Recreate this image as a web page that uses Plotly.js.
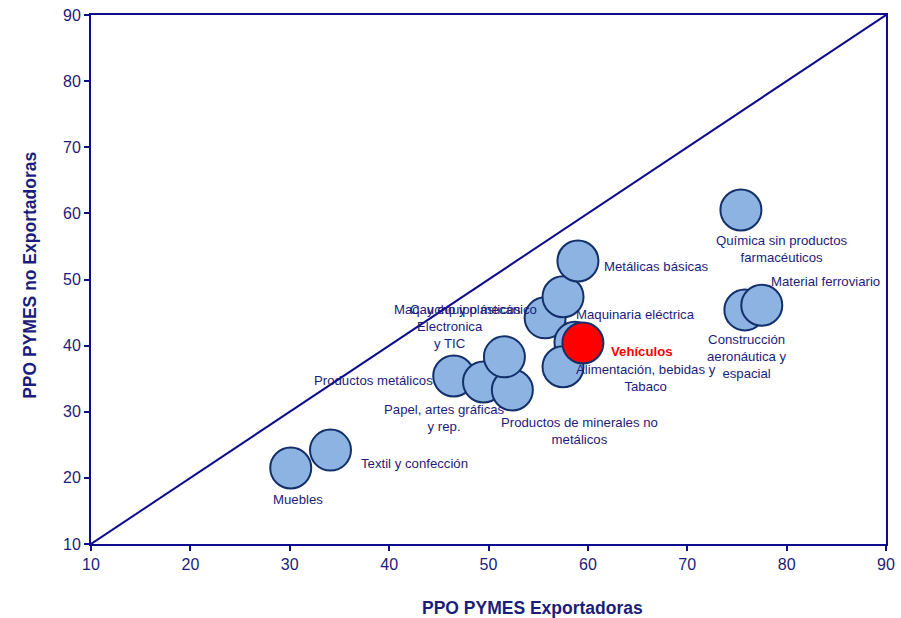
<!DOCTYPE html>
<html>
<head>
<meta charset="utf-8">
<script src="https://cdn.plot.ly/plotly-3.0.1.min.js"></script>
<style>html,body{margin:0;padding:0;background:#fff;}#chart{width:901px;height:618px;}</style>
</head>
<body>
<div id="chart"></div>
<script>
// Data
var sectors = [
  "Muebles",
  "Textil y confección",
  "Productos metálicos",
  "Papel, artes gráficas<br>y rep.",
  "Productos de minerales no<br>metálicos",
  "Electronica<br>y TIC",
  "Maq. y equipo mecánico",
  "Caucho y plásticos",
  "Metálicas básicas",
  "Maquinaria eléctrica",
  "Alimentación, bebidas y<br>Tabaco",
  "Química sin productos<br>farmacéuticos",
  "Construcción<br>aeronáutica y<br>espacial",
  "Material ferroviario"
];
var exportadoras = [30.1, 34.1, 46.5, 49.5, 52.4, 51.6, 55.7, 57.5, 59.0, 58.7, 57.5, 75.4, 75.8, 77.5];
var noExportadoras = [21.5, 24.2, 35.4, 34.5, 33.3, 38.3, 44.2, 47.4, 52.8, 40.5, 36.8, 60.5, 45.4, 46.1];

var highlightName = "Vehículos";
var highlightX = [59.5];
var highlightY = [40.4];

var diagonalX = [10, 90];
var diagonalY = [10, 90];

var tickVals = [10, 20, 30, 40, 50, 60, 70, 80, 90];

var xTitle = "PPO PYMES Exportadoras";
var yTitle = "PPO PYMES no Exportadoras";

// Label offsets (pixels) relative to each bubble — layout only
var labelShift = [
  [7, -32], [84, -13], [-80, -4], [-39, -36], [67, -41], [-54, 22],
  [-80, 8], [-98, -13], [78, -6], [61, 28], [83, -11], [41, -39], [2, -47], [64, 24]
];

var navy = "#0c0c8c";
var textCol = "#1c1c7a";
var fontFam = "Liberation Sans, Arial, sans-serif";

var traces = [
  {
    x: diagonalX, y: diagonalY, mode: "lines", type: "scatter",
    line: {color: navy, width: 2}, hoverinfo: "skip"
  },
  {
    x: exportadoras, y: noExportadoras, mode: "markers", type: "scatter",
    text: sectors,
    marker: {size: 41, color: "#8db3e2", line: {color: "#13306a", width: 2}, opacity: 1}
  },
  {
    x: highlightX, y: highlightY, mode: "markers", type: "scatter",
    text: [highlightName],
    marker: {size: 41, color: "#ff0000", line: {color: "#13306a", width: 2}}
  }
];

var annotations = sectors.map(function (s, i) {
  return {
    x: exportadoras[i], y: noExportadoras[i], xref: "x", yref: "y",
    text: s, showarrow: false, xshift: labelShift[i][0], yshift: labelShift[i][1],
    font: {family: fontFam, size: 13.2, color: textCol},
    align: "center"
  };
});
annotations.push({
  x: highlightX[0], y: highlightY[0], xref: "x", yref: "y",
  text: "<b>" + highlightName + "</b>", showarrow: false, xshift: 59, yshift: -9,
  font: {family: fontFam, size: 13.2, color: "#ff0000"}
});
annotations.push({
  x: 0.555, y: -0.121, xref: "paper", yref: "paper", xanchor: "center", yanchor: "middle",
  text: "<b>" + xTitle + "</b>", showarrow: false,
  font: {family: fontFam, size: 17.5, color: textCol}
});
annotations.push({
  x: -0.0767, y: 0.507, xref: "paper", yref: "paper", xanchor: "center", yanchor: "middle",
  text: "<b>" + yTitle + "</b>", showarrow: false, textangle: -90,
  font: {family: fontFam, size: 17.5, color: textCol}
});

var axisCommon = {
  range: [10, 90], tickvals: tickVals, ticks: "outside", ticklen: 5, tickwidth: 2,
  tickcolor: navy, showline: true, linecolor: navy, linewidth: 2, mirror: true,
  showgrid: false, zeroline: false,
  tickfont: {family: fontFam, size: 16, color: textCol}
};

var layout = {
  width: 901, height: 618,
  margin: {l: 91, r: 15, t: 15, b: 74},
  paper_bgcolor: "#ffffff", plot_bgcolor: "#ffffff",
  showlegend: false,
  xaxis: Object.assign({}, axisCommon),
  yaxis: Object.assign({}, axisCommon),
  annotations: annotations
};

Plotly.newPlot("chart", traces, layout, {displayModeBar: false, staticPlot: true});
</script>
</body>
</html>
